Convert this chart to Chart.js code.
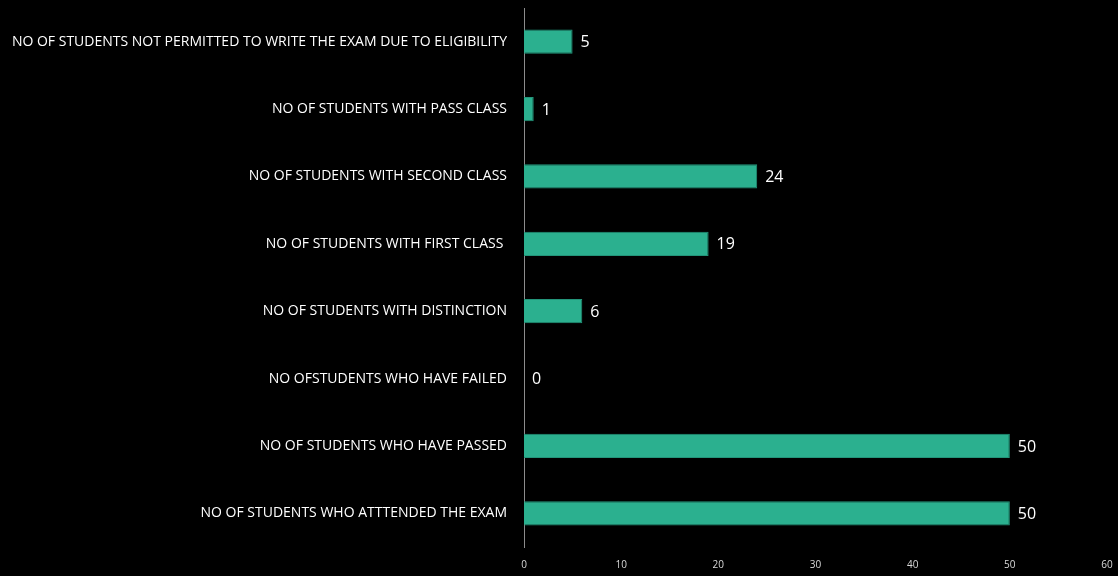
<!DOCTYPE html>
<html>
<head>
<meta charset="utf-8">
<script src="https://cdn.jsdelivr.net/npm/chart.js@4"></script>
<style>
  html, body { margin: 0; padding: 0; background: #000; }
  #wrap { width: 1118px; height: 576px; }
</style>
</head>
<body>
<div id="wrap"><canvas id="c" width="1118" height="576"></canvas></div>
<script>
const categories = [
  "NO OF STUDENTS NOT PERMITTED TO WRITE THE EXAM DUE TO ELIGIBILITY",
  "NO OF STUDENTS WITH PASS CLASS",
  "NO OF STUDENTS WITH SECOND CLASS",
  "NO OF STUDENTS WITH FIRST CLASS ",
  "NO OF STUDENTS WITH DISTINCTION",
  "NO OFSTUDENTS WHO HAVE FAILED",
  "NO OF STUDENTS WHO HAVE PASSED",
  "NO OF STUDENTS WHO ATTTENDED THE EXAM"
];
const studentCounts = [5, 1, 24, 19, 6, 0, 50, 50];
const xTicks = [0, 10, 20, 30, 40, 50, 60];

const FONT = "'Open Sans', 'DejaVu Sans', sans-serif";

// Writes each bar's value just past its end
const valueLabels = {
  id: 'valueLabels',
  afterDatasetsDraw(chart) {
    const ctx = chart.ctx;
    const meta = chart.getDatasetMeta(0);
    ctx.save();
    ctx.fillStyle = '#ffffff';
    ctx.font = '16px ' + FONT;
    ctx.textAlign = 'left';
    ctx.textBaseline = 'middle';
    meta.data.forEach((bar, i) => {
      ctx.fillText(String(studentCounts[i]), bar.x + 8, bar.y + 1);
    });
    ctx.restore();
  }
};

new Chart(document.getElementById('c'), {
  type: 'bar',
  data: {
    labels: categories,
    datasets: [{
      data: studentCounts,
      backgroundColor: '#2bb08f',
      borderColor: '#23957a',
      borderWidth: 1,
      barPercentage: 0.72,
      categoryPercentage: 0.5
    }]
  },
  options: {
    indexAxis: 'y',
    responsive: false,
    animation: false,
    layout: { padding: { top: 8, right: 11, bottom: 0, left: 0 } },
    plugins: { legend: { display: false }, tooltip: { enabled: false } },
    scales: {
      x: {
        min: 0, max: 60,
        afterBuildTicks(scale) { scale.ticks = xTicks.map(v => ({ value: v })); },
        grid: { display: false, drawTicks: false },
        border: { display: false },
        ticks: { color: '#d9d9d9', font: { family: FONT, size: 10 }, padding: 12 },
        afterFit(scale) {
          scale.height = 29;
          scale.paddingLeft = 0;
          scale.paddingRight = 0;
        }
      },
      y: {
        grid: { display: false, drawTicks: false },
        border: { display: true, color: '#8c8c8c', width: 1 },
        ticks: { color: '#ffffff', font: { family: FONT, size: 14 }, padding: 17 },
        afterFit(scale) {
          scale.width = 524;
          scale.paddingTop = 0;
          scale.paddingBottom = 0;
        }
      }
    }
  },
  plugins: [valueLabels]
});
</script>
</body>
</html>
